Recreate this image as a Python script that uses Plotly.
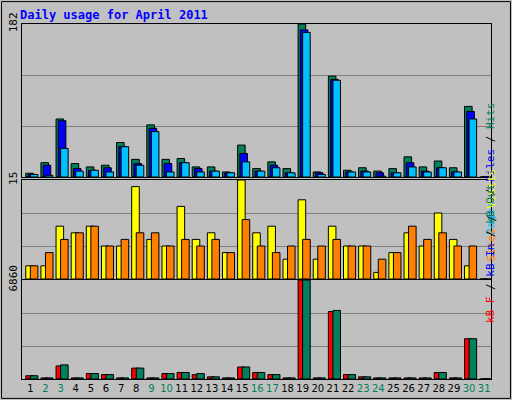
import plotly.graph_objects as go

days = list(range(1, 32))
hits  = [4.5,17,69,16,12,14,41,21,62,21,22,12,12,6,38,10,18,10,182,6,120,8,11,7,10,24,12,19,11,84,0]
files = [3,14,67,10,8,11,36,16,58,16,17,10,7,5,28,7,14,5,175,5,116,6,7,5,5,17,7,11,6,78,0]
pages = [3,2,34,7,8,6,36,14,54,6,17,6,7,5,18,7,11,5,172,3,115,6,6,1,5,12,6,11,6,69,0]
visits = [2,2,8,7,8,5,5,14,6,5,11,6,7,4,15,7,8,3,12,3,8,5,5,1,4,7,5,10,6,2,0]
sites  = [2,4,6,7,8,5,6,7,7,5,6,5,6,4,9,5,4,5,6,5,6,5,5,3,4,8,6,7,5,5,0]
kb_f   = [226,75,905,75,377,302,75,754,75,377,452,302,150,75,830,452,302,75,6860,75,4674,302,150,75,75,75,75,452,75,2790,0]
kb_in  = [0]*31
kb_out = [226,75,980,75,377,302,75,754,75,377,452,377,150,75,830,452,302,75,6860,75,4750,302,150,75,75,75,75,452,75,2790,0]
weekend = {2,3,9,10,16,17,23,24,30,31}

fig = go.Figure()
def bar(y, color, off, ax):
    fig.add_trace(go.Bar(x=days, y=y, marker=dict(color=color, line=dict(color="black", width=1)),
                         width=0.5, offset=off, xaxis=ax[0], yaxis=ax[1], hoverinfo="skip"))
bar(hits, "#00805C", -0.3, ("x", "y"))
bar(files, "#0000FF", -0.15, ("x", "y"))
bar(pages, "#00C0FF", 0.0, ("x", "y"))
bar(visits, "#FFFF00", -0.3, ("x2", "y2"))
bar(sites, "#FF8000", 0.0, ("x2", "y2"))
bar(kb_f, "#FF0000", -0.3, ("x3", "y3"))
bar(kb_in, "#0000FF", -0.15, ("x3", "y3"))
bar(kb_out, "#00805C", 0.0, ("x3", "y3"))

mono = "DejaVu Sans Mono"
def yax(mx, dom):
    return dict(domain=dom, range=[0, mx], tickvals=[mx/3, 2*mx/3, mx], ticktext=["", "", str(mx)],
                tickangle=-90, showgrid=True, gridcolor="#808080", gridwidth=1, zeroline=False,
                showline=True, linecolor="black", mirror=True, ticks="", fixedrange=True, automargin=False,
                tickfont=dict(family=mono, size=11, color="black"))
def xax(dom_anchor, show):
    d = dict(domain=[0.043, 0.959], range=[0.45, 31.45], showgrid=False, zeroline=False,
             showline=True, linecolor="black", mirror=True, anchor=dom_anchor, ticks="", automargin=False)
    if show:
        d.update(tickvals=days, tickangle=0,
                 ticktext=[f'<span style="color:{"#00805C" if d_ in weekend else "black"}">{d_}</span>' for d_ in days],
                 tickfont=dict(family="DejaVu Sans", size=10, color="black"))
    else:
        d.update(showticklabels=False)
    return d

fig.update_layout(
    width=512, height=400, margin=dict(l=0, r=0, t=0, b=0), autosize=False,
    paper_bgcolor="#C0C0C0", plot_bgcolor="#C0C0C0", barmode="overlay", showlegend=False,
    xaxis=xax("y", False), xaxis2=xax("y2", False), xaxis3=xax("y3", True),
    yaxis=yax(182, [0.5575, 0.94]), yaxis2=yax(15, [0.3025, 0.55]), yaxis3=yax(6860, [0.0525, 0.30]),
    shapes=[dict(type="rect", xref="paper", yref="paper", x0=0.003, y0=0.004, x1=0.997, y1=0.996,
                 line=dict(color="black", width=1))],
    annotations=[
        dict(text="<b>Daily usage for April 2011</b>", x=18/512, y=1-15/400, xref="paper", yref="paper",
             xanchor="left", yanchor="middle", showarrow=False, font=dict(family=mono, size=12, color="#0000FF")),
        dict(text='<span style="color:#00C0FF">Pages</span> / <span style="color:#0000FF">Files</span> / <span style="color:#00805C">Hits</span>',
             x=499/512, y=1-100/400, xref="paper", yref="paper", textangle=-90, showarrow=False,
             font=dict(family=mono, size=11, color="black")),
        dict(text='<span style="color:#FF8000">Sites</span> / <span style="color:#FFFF00">Visits</span>',
             x=499/512, y=1-215/400, xref="paper", yref="paper", textangle=-90, showarrow=False,
             font=dict(family=mono, size=11, color="black")),
        dict(text='<span style="color:#FF0000">kB F</span> / <span style="color:#0000FF">kB In</span> / <span style="color:#00805C">kB Out</span>',
             x=499/512, y=1-325/400, xref="paper", yref="paper", textangle=-90, showarrow=False,
             font=dict(family=mono, size=11, color="black")),
    ],
)
fig.write_html("out.html", config={"responsive": False, "displayModeBar": False},
               default_width="512px", default_height="400px",
               post_script="document.body.style.margin='0';document.body.style.overflow='hidden';")
